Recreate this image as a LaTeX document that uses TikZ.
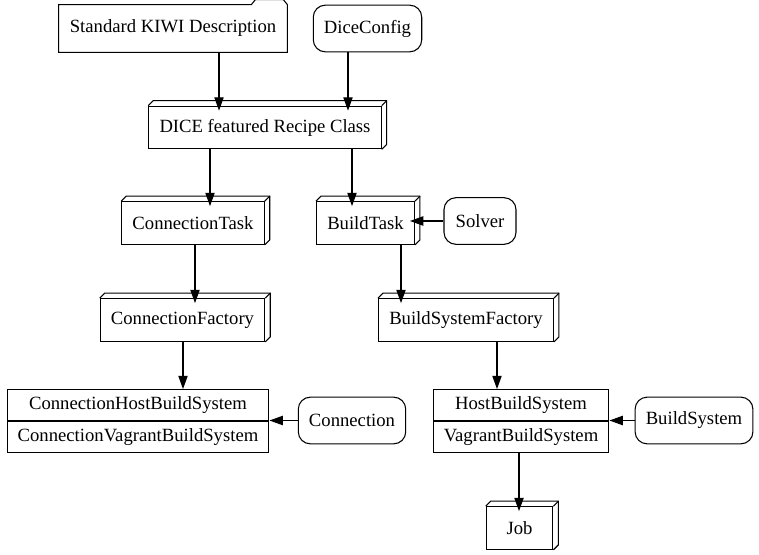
\documentclass[tikz,border=0pt]{standalone}
\usepackage{fontspec}
\setmainfont{Liberation Serif}
\usetikzlibrary{arrows.meta,positioning,shapes.multipart}

\tikzset{
  base/.style={inner xsep=8pt, inner ysep=4pt, minimum height=35pt, minimum width=54pt},
  folder/.style={base, draw=none},
  roundbox/.style={base, draw, rounded corners=9pt},
  boxthree/.style={draw, fill=white, inner xsep=8pt, minimum height=32pt, minimum width=50pt},
  recbox/.style={draw, rectangle split, rectangle split parts=2, inner xsep=8pt, inner ysep=5pt},
  to3d/.style={shorten >=-3.75pt}
}

\begin{document}
\begin{tikzpicture}[x=0.75pt,y=-0.75pt,line width=0.8pt,
    >={Triangle[length=10pt,width=7pt]},
    font=\fontsize{14}{16}\selectfont]
  \useasboundingbox (0,0) rectangle (759,555);

  % top row
  \node[folder] (kiwi) at (173,28.5) {Standard KIWI Description};
  \draw (kiwi.north east) -- (kiwi.south east) -- (kiwi.south west) -- (kiwi.north west)
    -- ([xshift=-27pt]kiwi.north east) -- ++(3pt,3.75pt)
    -- ([shift={(-3pt,3.75pt)}]kiwi.north east) -- cycle;
  \node[roundbox] (diceconfig) at (367.5,28.5) {DiceConfig};

  % recipe and tasks
  \node[boxthree] (recipe) at (265,127.5) {DICE featured Recipe Class};
  \node[boxthree] (conntask) at (193,223) {ConnectionTask};
  \node[boxthree] (buildtask) at (365.5,223) {BuildTask};
  \node[roundbox] (solver) at (480,221) {Solver};

  % factories
  \node[boxthree] (connfactory) at (182.5,320) {ConnectionFactory};
  \node[boxthree] (bsfactory) at (466,320) {BuildSystemFactory};

  % build systems
  \node[recbox] (connrec) at (138,421)
    {ConnectionHostBuildSystem\nodepart{two}ConnectionVagrantBuildSystem};
  \node[roundbox] (connection) at (352,420.5) {Connection};
  \node[recbox] (hostrec) at (521,421)
    {HostBuildSystem\nodepart{two}VagrantBuildSystem};
  \node[roundbox] (buildsystem) at (694,420.5) {BuildSystem};

  \node[boxthree] (job) at (519.5,528) {Job};

  % 3d sides
  \foreach \n in {recipe,conntask,buildtask,connfactory,bsfactory,job} {
    \draw (\n.north west) -- ++(5,-5) -| ([shift={(5,-5)}]\n.south east) -- (\n.south east);
    \draw (\n.north east) -- ++(5,-5);
  }

  \path[->]
    (kiwi.south -| 219,0) edge[to3d] (recipe.north -| 219,0)
    (diceconfig.south -| 348,0) edge[to3d] (recipe.north -| 348,0)
    (recipe.south -| 210,0) edge[to3d] (conntask.north -| 210,0)
    (recipe.south -| 352,0) edge[to3d] (buildtask.north -| 352,0)
    (solver.west) edge[to3d] (buildtask.east |- solver.west)
    (conntask.south -| 195,0) edge[to3d] (connfactory.north -| 195,0)
    (buildtask.south -| 401,0) edge[to3d] (bsfactory.north -| 401,0)
    (connfactory.south -| 183,0) edge (connrec.north -| 183,0)
    (bsfactory.south -| 497,0) edge (hostrec.north -| 497,0)
    (connection.west) edge (connrec.east |- connection.west)
    (buildsystem.west) edge (hostrec.east |- buildsystem.west)
    (hostrec.south -| 519,0) edge[to3d] (job.north -| 519,0);
\end{tikzpicture}
\end{document}
